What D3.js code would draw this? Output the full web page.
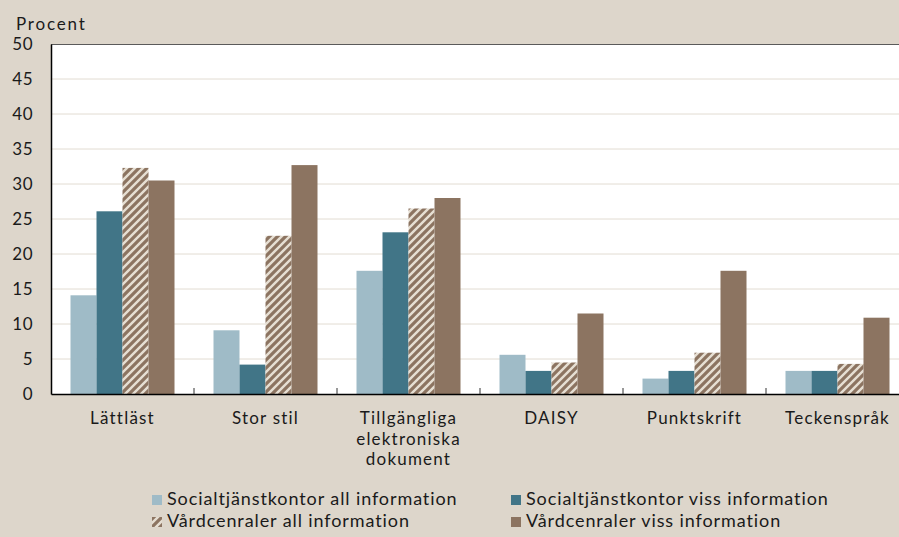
<!DOCTYPE html>
<html>
<head>
<meta charset="utf-8">
<script src="https://cdn.jsdelivr.net/npm/d3@7"></script>
<style>
  html, body { margin: 0; padding: 0; background: #DDD6CB; }
  svg { display: block; }
  text { font-family: "Lato", "DejaVu Sans", sans-serif; fill: #1a1a1a; }
</style>
</head>
<body>
<svg id="chart" width="899" height="537"></svg>
<script>
const categories = ["Lättläst", "Stor stil", "Tillgängliga elektroniska dokument", "DAISY", "Punktskrift", "Teckenspråk"];
const categoryLines = [["Lättläst"], ["Stor stil"], ["Tillgängliga", "elektroniska", "dokument"], ["DAISY"], ["Punktskrift"], ["Teckenspråk"]];
const seriesNames = [
  "Socialtjänstkontor all information",
  "Socialtjänstkontor viss information",
  "Vårdcenraler all information",
  "Vårdcenraler viss information"
];
const socAll   = [14.1, 9.1, 17.6, 5.6, 2.2, 3.3];
const socViss  = [26.1, 4.2, 23.1, 3.3, 3.3, 3.3];
const vcAll    = [32.3, 22.6, 26.5, 4.5, 5.9, 4.3];
const vcViss   = [30.5, 32.7, 28.0, 11.5, 17.6, 10.9];
const yTicks = [0, 5, 10, 15, 20, 25, 30, 35, 40, 45, 50];
const yLabel = "Procent";

const seriesValues = [socAll, socViss, vcAll, vcViss];
const fills = ["#9FBBC7", "#417587", "url(#hatch)", "#8C7461"];

const svg = d3.select("#chart");
const W = 899, H = 537;
const plot = { left: 51, top: 44, right: 909, bottom: 394 };

const defs = svg.append("defs");
const pat = defs.append("pattern")
  .attr("id", "hatch").attr("patternUnits", "userSpaceOnUse")
  .attr("width", 8).attr("height", 8);
pat.append("rect").attr("width", 8).attr("height", 8).attr("fill", "#E6DFD3");
pat.append("path")
  .attr("d", "M-2,2 L2,-2 M0,8 L8,0 M6,10 L10,6")
  .attr("stroke", "#8C7461").attr("stroke-width", 3.2).attr("stroke-linecap", "square");

defs.append("clipPath").attr("id", "plotclip")
  .append("rect").attr("x", 0).attr("y", 0).attr("width", W).attr("height", H);

const x0 = d3.scaleBand().domain(categories).range([plot.left, plot.right]).paddingInner(0).paddingOuter(0);
const x1 = d3.scaleBand().domain(d3.range(4)).range([19.5, x0.bandwidth() - 19.5]).padding(0);
const y = d3.scaleLinear().domain([0, 50]).range([plot.bottom, plot.top]);

const g = svg.append("g").attr("clip-path", "url(#plotclip)");

// plot background
g.append("rect")
  .attr("x", plot.left).attr("y", plot.top)
  .attr("width", plot.right - plot.left).attr("height", plot.bottom - plot.top)
  .attr("fill", "#ffffff");

// gridlines
g.append("g").selectAll("line")
  .data(yTicks.filter(t => t > 0 && t < 50))
  .join("line")
  .attr("x1", plot.left).attr("x2", plot.right)
  .attr("y1", d => y(d)).attr("y2", d => y(d))
  .attr("stroke", "#E2DCD2").attr("stroke-width", 1);

// bars
const groups = g.append("g").selectAll("g")
  .data(categories)
  .join("g")
  .attr("transform", d => `translate(${x0(d)},0)`);

groups.selectAll("rect")
  .data((d, i) => seriesValues.map((s, k) => ({ k, v: s[i] })))
  .join("rect")
  .attr("x", d => x1(d.k))
  .attr("width", x1.bandwidth())
  .attr("y", d => y(d.v))
  .attr("height", d => y(0) - y(d.v))
  .attr("fill", d => fills[d.k]);

// top border
g.append("line")
  .attr("x1", plot.left).attr("x2", plot.right)
  .attr("y1", plot.top + 0.5).attr("y2", plot.top + 0.5)
  .attr("stroke", "#5a5a5a").attr("stroke-width", 1.2);

// x axis
const xAxis = d3.axisBottom(x0).tickSize(0).tickFormat("");
const xg = g.append("g").attr("transform", `translate(0,${plot.bottom})`).call(xAxis);
xg.select(".domain").attr("stroke", "#000").attr("stroke-width", 1.5);

// category separator ticks
g.append("g").selectAll("line")
  .data(categories.slice(1))
  .join("line")
  .attr("x1", d => x0(d)).attr("x2", d => x0(d))
  .attr("y1", plot.bottom).attr("y2", plot.bottom - 6)
  .attr("stroke", "#333").attr("stroke-width", 1);

// y axis
const yAxis = d3.axisLeft(y).tickValues(yTicks).tickSize(0).tickPadding(18);
const yg = svg.append("g").attr("transform", `translate(${plot.left},0)`).call(yAxis);
yg.select(".domain").attr("stroke", "#000").attr("stroke-width", 1.5);
yg.selectAll("text")
  .style("font-family", "Lato, 'DejaVu Sans', sans-serif")
  .style("font-size", "17px").style("letter-spacing", "0.5px").attr("fill", "#1a1a1a");

svg.append("text")
  .attr("x", 16).attr("y", 30)
  .style("font-size", "17px").style("letter-spacing", "1.8px")
  .text(yLabel);

// category labels
const cl = svg.append("g").selectAll("text")
  .data(categories)
  .join("text")
  .attr("x", d => x0(d) + x0.bandwidth() / 2)
  .attr("y", 424)
  .attr("text-anchor", "middle")
  .style("font-size", "17px").style("letter-spacing", "1.2px");
cl.each(function (d, i) {
  d3.select(this).selectAll("tspan")
    .data(categoryLines[i])
    .join("tspan")
    .attr("x", x0(d) + x0.bandwidth() / 2)
    .attr("dy", (t, j) => j === 0 ? 0 : 20.5)
    .text(t => t);
});

// legend
const legendPos = [[152, 505], [511, 505], [152, 527], [511, 527]];
const lg = svg.append("g").selectAll("g")
  .data(seriesNames)
  .join("g")
  .attr("transform", (d, i) => `translate(${legendPos[i][0]},${legendPos[i][1]})`);
lg.append("rect")
  .attr("x", 0).attr("y", -10).attr("width", 10).attr("height", 10)
  .attr("fill", (d, i) => fills[i]);
lg.append("text")
  .attr("x", 15).attr("y", 0)
  .style("font-size", "18px").style("letter-spacing", "0.9px")
  .text(d => d);
</script>
</body>
</html>
